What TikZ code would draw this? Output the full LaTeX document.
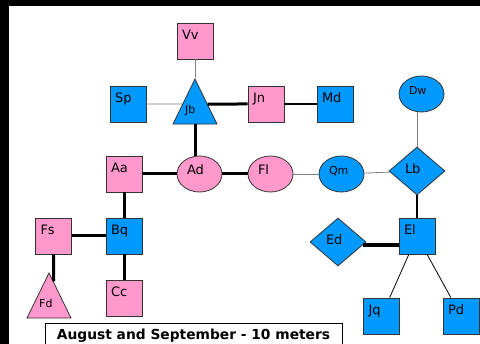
\documentclass[tikz,border=0pt]{standalone}
\usepackage{fontspec}
\setmainfont{DejaVu Sans}
\usepackage{tikz}
\usetikzlibrary{shapes,shapes.geometric,calc,positioning}
\definecolor{nodepink}{HTML}{FF99CC}
\definecolor{nodeblue}{HTML}{0099FF}
\definecolor{rim}{HTML}{333333}
\tikzset{
  box/.style={draw=rim, line width=0.8pt, minimum width=36pt, minimum 
  height=36pt, inner xsep=5pt, inner ysep=0pt, text width=26pt, align=left, 
  text height=17pt, text depth=19pt, font=\fontsize{13}{15}\selectfont},
pinkbox/.style = {box, fill=nodepink},
bluebox/.style = {box, fill=nodeblue},
oval/.style = {ellipse, draw=rim, line width=0.8pt, minimum width=45pt, 
minimum height=36pt, inner sep=0pt, text width=25pt, align=left, 
text height=8pt, text depth=6pt, font=\fontsize{13}{15}\selectfont},
small/.style = {font=\fontsize{11}{13}\selectfont},
rhomb/.style = {diamond, draw=rim, line width=0.8pt, fill=nodeblue, minimum 
width=56pt, minimum height=48pt, inner sep=0pt, text width=24pt, align=left, 
text height=9pt, text depth=3pt, font=\fontsize{13}{15}\selectfont},
tri/.style={isosceles triangle, isosceles triangle stretches, draw=rim, 
line width=0.8pt, minimum height=45pt, minimum width=44pt, inner sep=0pt, 
shape border rotate=90, anchor=apex},
trilabel/.style={small, anchor=base west, inner sep=0pt, xshift=-10pt, 
yshift=11pt},
caption/.style={draw=black, line width=0.8pt, fill=white, anchor=north, 
	minimum width=297pt, inner ysep=0pt, text height=16.3pt, text depth=13.7pt,
	font=\fontsize{13.8}{16}\selectfont\bfseries},
linkfaint/.style={draw=gray, line width=0.8pt},
linkthin/.style={draw=black, line width=0.8pt},
linkmid/.style={draw=black, line width=2pt},
linkthick/.style={draw=black, line width=3pt},
linkheavy/.style={draw=black, line width=4pt}
}

\begin{document}
\begin{tikzpicture}[x=1pt,y=-1pt]
			\useasboundingbox (0,0) rectangle (480,344);
			\clip (0,0) rectangle (480,344);
			\fill[black] (0,0) rectangle (480,344);
			\fill[white] (8.5,6) rectangle (480,344);
			\node (Vv) [pinkbox] at (195,41) {Vv};
			\node (Sp) [bluebox] at (128,104) {Sp};
			\node (Jb) [tri,fill=nodeblue,label={[trilabel]270:Jb}] at (195,78) {};
			\node (Jn) [pinkbox] at (266,104) {Jn};
			\node (Md) [bluebox] at (335,104) {Md};
			\node (Dw) [oval,small,fill=nodeblue] at (421.5,94) {Dw};
			\node (Aa) [pinkbox] at (124,174) {Aa};
			\node (Ad) [oval,fill=nodepink] at (199.5,174) {Ad};
			\node (Fl) [oval,fill=nodepink] at (270.5,174) {Fl};
			\node (Qm) [oval,small,fill=nodeblue] at (341.5,174) {Qm};
			\node (Lb) [rhomb] at (417,171) {Lb};
			\node (Fs) [pinkbox] at (53.5,236) {Fs};
			\node (Bq) [bluebox] at (124,236) {Bq};
			\node (Cc) [pinkbox] at (124,298) {Cc};
			\node (Fd) [tri,fill=nodepink,label={[trilabel]270:Fd}] at (49,272) {};
			\node (Ed) [rhomb] at (338,242) {Ed};
			\node (El) [bluebox] at (417,236) {El};
			\node (Jq) [bluebox] at (381.5,316) {Jq};
			\node (Pd) [bluebox] at (461,316) {Pd};
			\node (T) [caption] at (193.5,323) {August and September - 10 meters};
			\coordinate (JbW) at ($(Jb.apex)!0.56!(Jb.left corner)$);
			\coordinate (JbE) at ($(Jb.apex)!0.56!(Jb.right corner)$);
			\coordinate (JbS) at ($(Jb.left corner)!0.5!(Jb.right corner)$);
			\coordinate (FdE) at ($(Fd.apex)!0.2!(Fd.right corner)$);
			\coordinate (EdE) at ($(Ed.east)!0.125!(Ed.south)$);
			\path (Vv) edge [linkfaint] (Jb.apex);
			\path (Sp) edge [linkfaint] (JbW);
			\path (JbE) edge [linkthick] (Jn);
			\path (Jn) edge [linkmid] (Md);
			\path (JbS) edge [linkthick] (JbS |- Ad.north);
			\path (Aa) edge [linkthick] (Ad);
			\path (Ad) edge [linkthick] (Fl);
			\path (Fl) edge [linkfaint] (Qm);
			\path (Qm) edge [linkfaint] (Lb);
			\path (Lb.north) edge [linkfaint] (Lb.north |- Dw.south);
			\path (Aa) edge [linkthick] (Bq);
			\path (Fs) edge [linkthick] (Bq);
			\path (Bq) edge [linkthick] (Cc);
			\path (Fs) edge [linkthick] (FdE);
			\path (Lb) edge [linkmid] (El);
			\path (EdE) edge [linkheavy] (EdE -| El.west);
			\path (El) edge [linkthin] (Jq);
			\path (El) edge [linkthin] (Pd);
\end{tikzpicture}
\end{document}
